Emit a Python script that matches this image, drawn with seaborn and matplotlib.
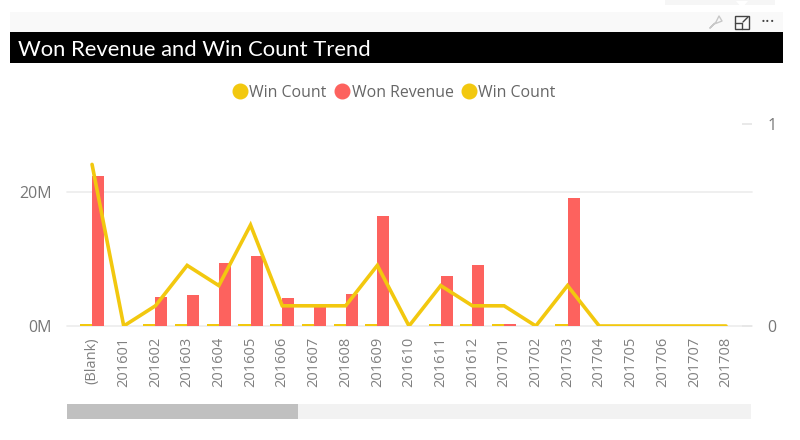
import pandas as pd
import seaborn as sns
import matplotlib
matplotlib.use("Agg")
import matplotlib.pyplot as plt
from matplotlib.lines import Line2D
from matplotlib.patches import Rectangle, Polygon

periods = ['(Blank)', '201601', '201602', '201603', '201604', '201605', '201606',
           '201607', '201608', '201609', '201610', '201611', '201612', '201701',
           '201702', '201703', '201704', '201705', '201706', '201707', '201708']
won_revenue = [22.5, 0, 4.3, 4.6, 9.4, 10.45, 4.2, 2.8, 4.8, 16.5, 0, 7.5, 9.15, 0.3,
               0, 19.1, 0, 0, 0, 0, 0]
# win count on the revenue axis is next to nothing, it only shows as a sliver
win_count_bars = [0.3, 0, 0.3, 0.3, 0.3, 0.3, 0.3, 0.3, 0.3, 0.3, 0, 0.3,
                  0.3, 0.3, 0, 0.3, 0, 0, 0, 0, 0]
win_count_line = [0.8, 0, 0.1, 0.3, 0.2, 0.5, 0.1, 0.1, 0.1, 0.3, 0, 0.2, 0.1, 0.1,
                  0, 0.2, 0, 0, 0, 0, 0]

RED = '#fd625e'
YELLOW = '#f2c80f'
TEXT = '#777777'
W, H = 800, 440

sns.set_theme(style='white')
plt.rcParams['font.family'] = ['Open Sans', 'DejaVu Sans']

bars = pd.DataFrame({
    'period': periods * 2,
    'value': win_count_bars + won_revenue,
    'series': ['Win Count'] * len(periods) + ['Won Revenue'] * len(periods),
})

fig = plt.figure(figsize=(W / 100, H / 100), dpi=100)
ax = fig.add_axes([67 / W, 1 - 326 / H, 685 / W, 202 / H])


def px_rect(x0, y0, x1, y1, **kw):
    fig.add_artist(Rectangle((x0 / W, 1 - y1 / H), (x1 - x0) / W, (y1 - y0) / H,
                             transform=fig.transFigure, lw=kw.pop('lw', 0), **kw))


def px_line(xs, ys, **kw):
    fig.add_artist(Line2D([x / W for x in xs], [1 - y / H for y in ys],
                          transform=fig.transFigure, **kw))


sns.barplot(data=bars, x='period', y='value', hue='series', order=periods,
            palette={'Win Count': YELLOW, 'Won Revenue': RED}, saturation=1,
            width=0.76, gap=0, linewidth=0, legend=False, ax=ax)
ax.set_xlim(-0.79, 20.82)
ax.set_ylim(0, 30.2)
ax.set_yticks([0, 20])
ax.set_yticklabels(['0M', '20M'])
ax.set_xlabel('')
ax.set_ylabel('')
ax.tick_params(axis='x', rotation=90, labelsize=10.5, labelcolor='#808080', length=0, pad=8)
ax.tick_params(axis='y', labelsize=11.5, labelcolor=TEXT, length=0, pad=11)
ax.grid(axis='y', color='#ececec', lw=1.2)
ax.set_axisbelow(True)
for line in ax.get_ygridlines():
    line.set_clip_on(False)
sns.despine(ax=ax, left=True, bottom=True, top=True, right=True)

ax2 = ax.twinx()
sns.lineplot(x=periods, y=win_count_line, color=YELLOW, lw=2.6, ax=ax2, legend=False,
             errorbar=None, solid_joinstyle='miter', zorder=5)
ax2.set_ylim(0, 1)
ax2.set_yticks([0, 1])
ax2.set_yticklabels(['0', '1'])
ax2.set_ylabel('')
ax2.tick_params(axis='y', labelsize=11.5, labelcolor=TEXT, direction='in', length=7,
                color='#e6e6e6', pad=11)
sns.despine(ax=ax2, left=True, bottom=True, top=True, right=True)

handles = [Line2D([], [], ls='', marker='o', ms=10.5, color=c)
           for c in (YELLOW, RED, YELLOW)]
fig.legend(handles, ['Win Count', 'Won Revenue', 'Win Count'], ncol=3, frameon=False,
           loc='center', bbox_to_anchor=(390 / W, 1 - 93 / H), fontsize=11.4,
           labelcolor='#666666', handletextpad=-0.42, columnspacing=0, borderpad=0)

# report chrome around the visual
px_rect(665, 0, 775, 5, color='#f6f6f6', zorder=0)
px_rect(10, 12, 783, 32, color='#f9f9f9', zorder=0)
px_rect(10, 32, 783, 63, color='black', zorder=1)
fig.text(18 / W, 1 - 50 / H, 'Won Revenue and Win Count Trend', color='white',
         fontsize=15.8, family='Lato', va='center', ha='left')

# pin, focus and more icons
fig.add_artist(Polygon([(736 / W, 1 - 1 / H), (748 / W, 1 - 1 / H), (742 / W, 1 - 8 / H)],
                       transform=fig.transFigure, color='white', lw=0))
px_line([710, 716, 719, 722, 717, 714, 710], [28, 22, 16, 21, 23, 24, 28], color='#c8c8c8', lw=1)
px_rect(735, 16, 749, 29, facecolor='none', edgecolor='#444444', lw=1)
px_line([735, 742, 742], [23, 23, 29], color='#444444', lw=1)
px_line([743, 748], [22, 17], color='#444444', lw=1)
fig.text(768 / W, 1 - 22 / H, '···', color='#444444', fontsize=13, ha='center', va='center')

# scroll bar under the plot
px_rect(67, 404, 751, 419, color='#f2f2f2', zorder=0)
px_rect(67, 404, 298, 419, color='#c0c0c0', zorder=1)

fig.savefig('out.png', dpi=100)
